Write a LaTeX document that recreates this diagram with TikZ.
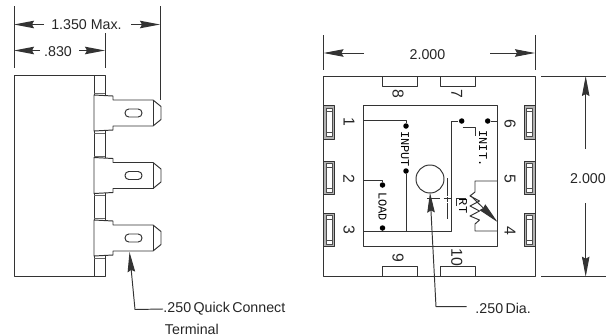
\documentclass[tikz,border=0pt]{standalone}
\usepackage{fontspec}
\setmainfont{Liberation Sans}
\newfontfamily\pinfont{Liberation Mono}
\usetikzlibrary{arrows.meta}
\begin{document}
\begin{tikzpicture}[
  x=0.02cm, y=-0.02cm,
  line width=0.55pt, line join=round, black!80,
  dimline/.style={-{Stealth[length=0.4cm, width=0.15cm, inset=0.04cm]}},
  dimtext/.style={inner sep=0pt, text=black!85, font=\fontsize{8.1}{10}\selectfont},
  pintext/.style={inner sep=0pt, text=black!85, rotate=-90, font=\fontsize{9}{10}\selectfont},
  sigtext/.style={inner sep=0pt, text=black, rotate=-90, font=\pinfont\fontsize{6.8}{8}\selectfont},
  sigdot/.style={circle, fill=black, inner sep=0pt, minimum size=0.11cm}]

  \useasboundingbox (0,0) rectangle (615,335);

  % Side view body
  \draw (14,75) rectangle (94,276.5);
  \draw (94,75) rectangle (105,276.5);

  % Side view terminals
  \foreach \yc in {113,175.5,238}{
    \draw [black!60] (94,\yc-19.5) -- (105,\yc-19.5);
    \draw [black!60] (94,\yc+20) -- (105,\yc+20);
    \path [fill=white, draw=black!80]
    (94,\yc-18) --
    (113,\yc-17) --
    (113,\yc-13) --
    (153,\yc-13) --
    (161,\yc-6.5) --
    (161,\yc+6.5) --
    (153,\yc+13) --
    (113,\yc+13) --
    (113,\yc+17) --
    (94,\yc+18) --
    cycle;
    \draw (153,\yc-13) -- (153,\yc+13);
    \draw [rounded corners=2.2pt] (125,\yc-4) rectangle (142,\yc+4);
  }

  % Side view dimensions
  \draw (14,6) -- (14,68);
  \draw (105,33) -- (105,68);
  \draw (160,6) -- (160,100);
  \node [dimtext] (maxlen) at (86.5,24.5) {1.350 Max.};
  \node [dimtext] (bodylen) at (58,51.5) {.830};
  \draw [dimline] (44,24.5) -- (14,24.5);
  \draw [dimline] (131,24.5) -- (160,24.5);
  \draw [dimline] (40,50.5) -- (14,50.5);
  \draw [dimline] (79,50.5) -- (105,50.5);

  % Terminal callout
  \node [dimtext, anchor=west] (quick) at (163,309) {.250\,Quick\,Connect};
  \node [dimtext, anchor=west] (term) at (164.5,329) {Terminal};
  \coordinate (quicktip) at (129.5,252);
  \draw [dimline] (quick.west) -- (135,309.5) -- (quicktip);

  % Top view outline
  \draw (323.5,76) rectangle (535,276.5);
  \draw (363.5,105.7) rectangle (497.5,246.7);

  % Top and bottom tabs
  \foreach \xt in {382,440.7}{
    \draw (\xt,76) rectangle (\xt+35,86);
    \draw (\xt,266.7) rectangle (\xt+35,276.5);
  }

  % Left and right tabs
  \foreach \xt/\xa in {323.5/326.7,524/526.7}{
    \foreach \yt in {105.7,161,213}{
      \draw [fill=black!30] (\xt,\yt) rectangle (\xt+11,\yt+33.5);
      \path [fill=white, draw=black!70] (\xa,\yt+2.5) rectangle (\xa+5.6,\yt+31);
      \draw [black!70] (\xa,\yt+6) -- (\xa+5.6,\yt+6);
      \draw [black!70] (\xa,\yt+27) -- (\xa+5.6,\yt+27);
    }
  }

  % Pin numbers
  \foreach \xp/\yp/\txt in {349/122/1, 349/179/2, 349/230/3, 510/230.5/4, 510/179/5,
    510/124/6, 456.7/94/7, 398/94/8, 398/257.7/9, 456.7/257.7/10}{
    \node [pintext] (pin\txt) at (\xp,\yp) {\txt};
  }

  % Inner wiring
  \node [sigdot] (inputa) at (406,126) {};
  \node [sigdot] (inputb) at (406,171) {};
  \node [sigdot] (loada) at (382.5,185) {};
  \node [sigdot] (loadb) at (382.5,228) {};
  \node [sigdot] (inita) at (461.7,121) {};
  \node [sigdot] (initb) at (487.7,121) {};
  \draw (363.5,120.7) -| (inputa);
  \draw (363.5,180) -| (loada);
  \draw (inputb) -- (406,231);
  \draw (loadb) -- (382.5,231);
  \draw (363.5,231) -- (451.7,231) -- (451.7,121) -- (inita);
  \draw (initb) -- (497.5,121);
  \draw (462.7,127.3) -- (475.7,127.3) -- (475.7,136);

  % Signal labels
  \node [sigtext] (inputlbl) at (405,149) {INPUT};
  \node [sigtext] (loadlbl) at (382.5,206.5) {LOAD};
  \node [sigtext] (initlbl) at (483,148.5) {INIT.};
  \node [sigtext] (rtlbl) at (463,206) {RT};

  % Adjust hole and center mark
  \draw (430,179) circle [radius=14];
  \draw (447.3,178) -- (447.3,196);
  \draw (447.3,196.5) -- (447.3,201.5);
  \draw (447.3,203) -- (447.3,219);
  \draw (427,198.7) -- (440,198.7);
  \draw (443.5,198.7) -- (451,198.7);
  \draw (456.7,206) -- (456.7,198.7) -- (466,198.7);

  % Resistor
  \draw (497.5,181) -- (475,181) -- (475,192) -- (470,196) -- (479.5,201) -- (470,206) --
  (479.5,211) -- (470,216) -- (479.5,220) -- (475,224) -- (475,231) -- (497.5,231);
  \draw [-{Stealth[length=0.42cm, width=0.16cm, inset=0.02cm]}] (470,195) -- (497.5,222);

  % Hole callout
  \node [dimtext, anchor=west] (dia) at (475,308) {.250\,Dia.};
  \coordinate (diatip) at (430,192.5);
  \draw [dimline] (466.7,306.7) -- (436,306.7) -- (diatip);

  % Top view dimensions
  \draw (323.5,35) -- (323.5,70);
  \draw (535,35) -- (535,70);
  \draw (541,76) -- (606,76);
  \draw (541,276.7) -- (606,276.7);
  \node [dimtext] (widlbl) at (427.5,55) {2.000};
  \node [dimtext] (hgtlbl) at (588,178.5) {2.000};
  \draw [dimline] (364,53) -- (323.5,53);
  \draw [dimline] (490,53) -- (535,53);
  \draw [dimline] (585.7,149) -- (585.7,76);
  \draw [dimline] (585.7,203) -- (585.7,276.7);

\end{tikzpicture}
\end{document}
